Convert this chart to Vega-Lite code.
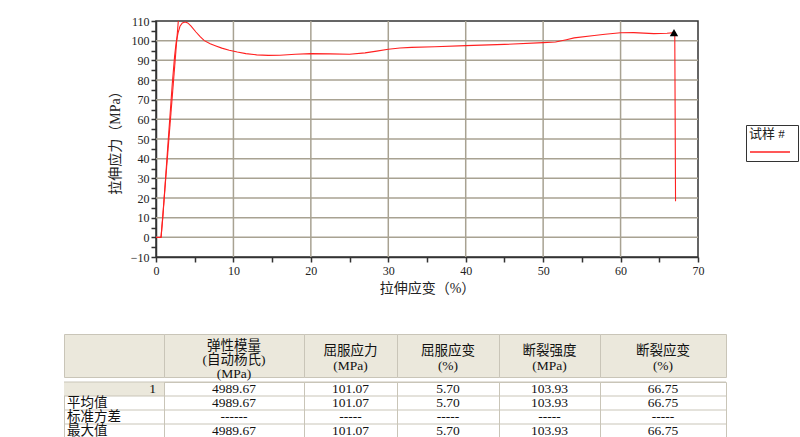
{
  "$schema": "https://vega.github.io/schema/vega-lite/v6.json",
  "background": "white",
  "padding": {"left": 63, "top": 14, "right": 0, "bottom": 0},
  "spacing": 37,
  "config": {
    "font": "Liberation Serif, Noto Sans CJK SC",
    "view": {"stroke": null},
    "text": {"font": "Liberation Serif, Noto Sans CJK SC", "fontSize": 13.5, "color": "#111"}
  },
  "datasets": {
    "xgrid": [{"v": 10}, {"v": 20}, {"v": 30}, {"v": 40}, {"v": 50}, {"v": 60}],
    "ygrid": [{"v": 0}, {"v": 10}, {"v": 20}, {"v": 30}, {"v": 40}, {"v": 50}, {"v": 60}, {"v": 70}, {"v": 80}, {"v": 90}, {"v": 100}],
    "curve": [
      {"seg": "curve", "sample": "1", "strain": 0, "stress": 0},
      {"seg": "curve", "sample": "1", "strain": 0.65, "stress": 0},
      {"seg": "curve", "sample": "1", "strain": 0.9, "stress": 11},
      {"seg": "curve", "sample": "1", "strain": 1.5, "stress": 45},
      {"seg": "curve", "sample": "1", "strain": 2.1, "stress": 78},
      {"seg": "curve", "sample": "1", "strain": 2.4, "stress": 92},
      {"seg": "curve", "sample": "1", "strain": 2.6, "stress": 99},
      {"seg": "curve", "sample": "1", "strain": 2.85, "stress": 104},
      {"seg": "curve", "sample": "1", "strain": 3.1, "stress": 107.3},
      {"seg": "curve", "sample": "1", "strain": 3.4, "stress": 109},
      {"seg": "curve", "sample": "1", "strain": 3.78, "stress": 109.5},
      {"seg": "curve", "sample": "1", "strain": 4.1, "stress": 109},
      {"seg": "curve", "sample": "1", "strain": 4.5, "stress": 107.5},
      {"seg": "curve", "sample": "1", "strain": 5.16, "stress": 104.4},
      {"seg": "curve", "sample": "1", "strain": 5.7, "stress": 102},
      {"seg": "curve", "sample": "1", "strain": 6.24, "stress": 100},
      {"seg": "curve", "sample": "1", "strain": 7.0, "stress": 98.4},
      {"seg": "curve", "sample": "1", "strain": 7.74, "stress": 97.3},
      {"seg": "curve", "sample": "1", "strain": 8.5, "stress": 96.2},
      {"seg": "curve", "sample": "1", "strain": 9.46, "stress": 95.1},
      {"seg": "curve", "sample": "1", "strain": 10.5, "stress": 94.2},
      {"seg": "curve", "sample": "1", "strain": 11.6, "stress": 93.4},
      {"seg": "curve", "sample": "1", "strain": 13, "stress": 92.8},
      {"seg": "curve", "sample": "1", "strain": 14.5, "stress": 92.5},
      {"seg": "curve", "sample": "1", "strain": 16, "stress": 92.6},
      {"seg": "curve", "sample": "1", "strain": 18, "stress": 93.1},
      {"seg": "curve", "sample": "1", "strain": 20, "stress": 93.4},
      {"seg": "curve", "sample": "1", "strain": 22.5, "stress": 93.3},
      {"seg": "curve", "sample": "1", "strain": 25, "stress": 93.1},
      {"seg": "curve", "sample": "1", "strain": 27, "stress": 93.8},
      {"seg": "curve", "sample": "1", "strain": 28.5, "stress": 94.7},
      {"seg": "curve", "sample": "1", "strain": 30, "stress": 95.6},
      {"seg": "curve", "sample": "1", "strain": 31.5, "stress": 96.3},
      {"seg": "curve", "sample": "1", "strain": 33, "stress": 96.6},
      {"seg": "curve", "sample": "1", "strain": 36, "stress": 96.9},
      {"seg": "curve", "sample": "1", "strain": 40, "stress": 97.5},
      {"seg": "curve", "sample": "1", "strain": 45, "stress": 98.1},
      {"seg": "curve", "sample": "1", "strain": 50, "stress": 99.0},
      {"seg": "curve", "sample": "1", "strain": 51.6, "stress": 99.3},
      {"seg": "curve", "sample": "1", "strain": 53, "stress": 100.5},
      {"seg": "curve", "sample": "1", "strain": 54, "stress": 101.4},
      {"seg": "curve", "sample": "1", "strain": 56.6, "stress": 102.6},
      {"seg": "curve", "sample": "1", "strain": 58, "stress": 103.3},
      {"seg": "curve", "sample": "1", "strain": 60, "stress": 104.0},
      {"seg": "curve", "sample": "1", "strain": 61.7, "stress": 104.1},
      {"seg": "curve", "sample": "1", "strain": 64.3, "stress": 103.6},
      {"seg": "curve", "sample": "1", "strain": 66.0, "stress": 103.8},
      {"seg": "curve", "sample": "1", "strain": 67.0, "stress": 104.1},
      {"seg": "curve", "sample": "1", "strain": 67.1, "stress": 18.3},
      {"seg": "modulus", "sample": "1", "strain": 0.65, "stress": 0},
      {"seg": "modulus", "sample": "1", "strain": 2.88, "stress": 110}
    ],
    "marker": [
      {"strain": 66.9, "stress": 104.1}
    ],
    "header": [
      {"col": "c1", "label": "弹性模量\n(自动杨氏)\n(MPa)"},
      {"col": "c2", "label": "屈服应力\n(MPa)"},
      {"col": "c3", "label": "屈服应变\n(%)"},
      {"col": "c4", "label": "断裂强度\n(MPa)"},
      {"col": "c5", "label": "断裂应变\n(%)"}
    ],
    "body": [
      {"col": "c0", "row": "r1", "text": "1"},
      {"col": "c0", "row": "avg", "text": "平均值"},
      {"col": "c0", "row": "std", "text": "标准方差"},
      {"col": "c0", "row": "max", "text": "最大值"},
      {"col": "c1", "row": "r1", "text": "4989.67"},
      {"col": "c1", "row": "avg", "text": "4989.67"},
      {"col": "c1", "row": "std", "text": "------"},
      {"col": "c1", "row": "max", "text": "4989.67"},
      {"col": "c2", "row": "r1", "text": "101.07"},
      {"col": "c2", "row": "avg", "text": "101.07"},
      {"col": "c2", "row": "std", "text": "-----"},
      {"col": "c2", "row": "max", "text": "101.07"},
      {"col": "c3", "row": "r1", "text": "5.70"},
      {"col": "c3", "row": "avg", "text": "5.70"},
      {"col": "c3", "row": "std", "text": "-----"},
      {"col": "c3", "row": "max", "text": "5.70"},
      {"col": "c4", "row": "r1", "text": "103.93"},
      {"col": "c4", "row": "avg", "text": "103.93"},
      {"col": "c4", "row": "std", "text": "-----"},
      {"col": "c4", "row": "max", "text": "103.93"},
      {"col": "c5", "row": "r1", "text": "66.75"},
      {"col": "c5", "row": "avg", "text": "66.75"},
      {"col": "c5", "row": "std", "text": "-----"},
      {"col": "c5", "row": "max", "text": "66.75"}
    ]
  },
  "vconcat": [
    {
      "bounds": "flush",
      "spacing": 0,
      "hconcat": [
        {"width": 92, "height": 10, "data": {"values": []}, "mark": "point"},
        {
          "width": 542,
          "height": 236,
          "view": {"stroke": "#333", "strokeWidth": 1.5},
          "layer": [
            {
              "data": {"name": "xgrid"},
              "mark": {"type": "rule", "color": "#a8a292", "strokeWidth": 1.5},
              "encoding": {"x": {"field": "v", "type": "quantitative", "title": "拉伸应变（%）"}}
            },
            {
              "data": {"name": "ygrid"},
              "mark": {"type": "rule", "color": "#a8a292", "strokeWidth": 1.5},
              "encoding": {"y": {"field": "v", "type": "quantitative", "title": "拉伸应力（MPa）"}}
            },
            {
              "data": {"name": "curve"},
              "mark": {"type": "line", "strokeWidth": 1.1},
              "encoding": {
                "x": {
                  "field": "strain", "type": "quantitative",
                  "scale": {"domain": [0, 70], "nice": false, "zero": false},
                  "title": "拉伸应变（%）",
                  "axis": {
                    "values": [0, 5, 10, 15, 20, 25, 30, 35, 40, 45, 50, 55, 60, 65, 70],
                    "tickCount": 15,
                    "format": "d",
                    "labelExpr": "datum.value % 10 === 0 ? datum.label : ''",
                    "labelOverlap": false,
                    "grid": false,
                    "domainColor": "#333", "domainWidth": 1.5,
                    "tickColor": "#333", "tickWidth": 1.5, "tickSize": 5,
                    "labelFontSize": 12, "labelColor": "#222", "labelPadding": 3, "labelFlush": false,
                    "titleFontSize": 14, "titleFontWeight": "normal", "titleColor": "#222", "titlePadding": 5
                  }
                },
                "y": {
                  "field": "stress", "type": "quantitative",
                  "scale": {"domain": [-10, 110], "nice": false, "zero": false},
                  "title": "拉伸应力（MPa）",
                  "axis": {
                    "values": [-10, -5, 0, 5, 10, 15, 20, 25, 30, 35, 40, 45, 50, 55, 60, 65, 70, 75, 80, 85, 90, 95, 100, 105, 110],
                    "tickCount": 25,
                    "format": "d",
                    "labelExpr": "datum.value % 10 === 0 ? datum.label : ''",
                    "labelOverlap": false,
                    "grid": false,
                    "domainColor": "#333", "domainWidth": 1.5,
                    "tickColor": "#333", "tickWidth": 1.5, "tickSize": 5,
                    "labelFontSize": 12, "labelColor": "#222", "labelPadding": 2, "labelFlush": false,
                    "titleFontSize": 14, "titleFontWeight": "normal", "titleColor": "#222", "titlePadding": 8
                  }
                },
                "color": {
                  "field": "sample", "type": "nominal",
                  "scale": {"range": ["#ff2020"]},
                  "legend": {
                    "title": "   试样  #",
                    "orient": "none", "legendX": 682, "legendY": 104,
                    "symbolType": "stroke", "symbolSize": 1600, "symbolStrokeWidth": 1.5,
                    "clipHeight": 12,
                    "labelExpr": "''",
                    "strokeColor": "#333", "fillColor": "white", "padding": 3,
                    "titleFontSize": 13, "titleFontWeight": "normal", "titleColor": "#222", "titlePadding": 5
                  }
                },
                "detail": {"field": "seg", "type": "nominal"}
              }
            },
            {
              "data": {"name": "marker"},
              "mark": {"type": "point", "shape": "triangle-up", "filled": true, "color": "black", "opacity": 1, "size": 70},
              "encoding": {
                "x": {"field": "strain", "type": "quantitative", "title": "拉伸应变（%）"},
                "y": {"field": "stress", "type": "quantitative", "title": "拉伸应力（MPa）"}
              }
            }
          ]
        }
      ]
    },
    {
      "spacing": 0,
      "vconcat": [
        {
          "bounds": "flush",
          "spacing": 0,
          "hconcat": [
            {"width": 100, "height": 43, "view": {"fill": "#ebe8dc", "stroke": "#c9c5b8"}, "data": {"name": "header"}, "transform": [{"filter": "datum.col === 'c0'"}], "mark": {"type": "text", "lineBreak": "\n", "lineHeight": 15}, "encoding": {"text": {"field": "label"}}},
            {"width": 140, "height": 43, "view": {"fill": "#ebe8dc", "stroke": "#c9c5b8"}, "data": {"name": "header"}, "transform": [{"filter": "datum.col === 'c1'"}], "mark": {"type": "text", "lineBreak": "\n", "lineHeight": 14, "dy": -10}, "encoding": {"text": {"field": "label"}}},
            {"width": 93, "height": 43, "view": {"fill": "#ebe8dc", "stroke": "#c9c5b8"}, "data": {"name": "header"}, "transform": [{"filter": "datum.col === 'c2'"}], "mark": {"type": "text", "lineBreak": "\n", "lineHeight": 15, "dy": -5}, "encoding": {"text": {"field": "label"}}},
            {"width": 102, "height": 43, "view": {"fill": "#ebe8dc", "stroke": "#c9c5b8"}, "data": {"name": "header"}, "transform": [{"filter": "datum.col === 'c3'"}], "mark": {"type": "text", "lineBreak": "\n", "lineHeight": 15, "dy": -5}, "encoding": {"text": {"field": "label"}}},
            {"width": 101, "height": 43, "view": {"fill": "#ebe8dc", "stroke": "#c9c5b8"}, "data": {"name": "header"}, "transform": [{"filter": "datum.col === 'c4'"}], "mark": {"type": "text", "lineBreak": "\n", "lineHeight": 15, "dy": -5}, "encoding": {"text": {"field": "label"}}},
            {"width": 126, "height": 43, "view": {"fill": "#ebe8dc", "stroke": "#c9c5b8"}, "data": {"name": "header"}, "transform": [{"filter": "datum.col === 'c5'"}], "mark": {"type": "text", "lineBreak": "\n", "lineHeight": 15, "dy": -5}, "encoding": {"text": {"field": "label"}}}
          ]
        },
        {
          "bounds": "flush",
          "spacing": 0,
          "hconcat": [
            {
              "width": 100, "height": 56, "view": {"stroke": "#c9c5b8"},
              "data": {"name": "body"}, "transform": [{"filter": "datum.col === 'c0'"}],
              "encoding": {"y": {"field": "row", "type": "ordinal", "scale": {"domain": ["r1", "avg", "std", "max"], "paddingInner": 0, "paddingOuter": 0}, "axis": null}},
              "layer": [
                {"transform": [{"filter": "datum.row === 'r1'"}], "mark": {"type": "rect", "color": "#ebe8dc"}},
                {"mark": {"type": "rule", "color": "#c9c5b8"}, "encoding": {"y": {"field": "row", "type": "ordinal", "bandPosition": 0}}},
                {"transform": [{"filter": "datum.row === 'r1'"}], "mark": {"type": "text", "align": "right", "dx": 42}, "encoding": {"text": {"field": "text"}}},
                {"transform": [{"filter": "datum.row !== 'r1'"}], "mark": {"type": "text", "align": "left", "dx": -47}, "encoding": {"text": {"field": "text"}}}
              ]
            },
            {
              "width": 140, "height": 56, "view": {"stroke": "#c9c5b8"},
              "data": {"name": "body"}, "transform": [{"filter": "datum.col === 'c1'"}],
              "encoding": {"y": {"field": "row", "type": "ordinal", "scale": {"domain": ["r1", "avg", "std", "max"], "paddingInner": 0, "paddingOuter": 0}, "axis": null}},
              "layer": [
                {"mark": {"type": "rule", "color": "#c9c5b8"}, "encoding": {"y": {"field": "row", "type": "ordinal", "bandPosition": 0}}},
                {"mark": {"type": "text"}, "encoding": {"text": {"field": "text"}}}
              ]
            },
            {
              "width": 93, "height": 56, "view": {"stroke": "#c9c5b8"},
              "data": {"name": "body"}, "transform": [{"filter": "datum.col === 'c2'"}],
              "encoding": {"y": {"field": "row", "type": "ordinal", "scale": {"domain": ["r1", "avg", "std", "max"], "paddingInner": 0, "paddingOuter": 0}, "axis": null}},
              "layer": [
                {"mark": {"type": "rule", "color": "#c9c5b8"}, "encoding": {"y": {"field": "row", "type": "ordinal", "bandPosition": 0}}},
                {"mark": {"type": "text"}, "encoding": {"text": {"field": "text"}}}
              ]
            },
            {
              "width": 102, "height": 56, "view": {"stroke": "#c9c5b8"},
              "data": {"name": "body"}, "transform": [{"filter": "datum.col === 'c3'"}],
              "encoding": {"y": {"field": "row", "type": "ordinal", "scale": {"domain": ["r1", "avg", "std", "max"], "paddingInner": 0, "paddingOuter": 0}, "axis": null}},
              "layer": [
                {"mark": {"type": "rule", "color": "#c9c5b8"}, "encoding": {"y": {"field": "row", "type": "ordinal", "bandPosition": 0}}},
                {"mark": {"type": "text"}, "encoding": {"text": {"field": "text"}}}
              ]
            },
            {
              "width": 101, "height": 56, "view": {"stroke": "#c9c5b8"},
              "data": {"name": "body"}, "transform": [{"filter": "datum.col === 'c4'"}],
              "encoding": {"y": {"field": "row", "type": "ordinal", "scale": {"domain": ["r1", "avg", "std", "max"], "paddingInner": 0, "paddingOuter": 0}, "axis": null}},
              "layer": [
                {"mark": {"type": "rule", "color": "#c9c5b8"}, "encoding": {"y": {"field": "row", "type": "ordinal", "bandPosition": 0}}},
                {"mark": {"type": "text"}, "encoding": {"text": {"field": "text"}}}
              ]
            },
            {
              "width": 126, "height": 56, "view": {"stroke": "#c9c5b8"},
              "data": {"name": "body"}, "transform": [{"filter": "datum.col === 'c5'"}],
              "encoding": {"y": {"field": "row", "type": "ordinal", "scale": {"domain": ["r1", "avg", "std", "max"], "paddingInner": 0, "paddingOuter": 0}, "axis": null}},
              "layer": [
                {"mark": {"type": "rule", "color": "#c9c5b8"}, "encoding": {"y": {"field": "row", "type": "ordinal", "bandPosition": 0}}},
                {"mark": {"type": "text"}, "encoding": {"text": {"field": "text"}}}
              ]
            }
          ]
        }
      ]
    }
  ]
}
